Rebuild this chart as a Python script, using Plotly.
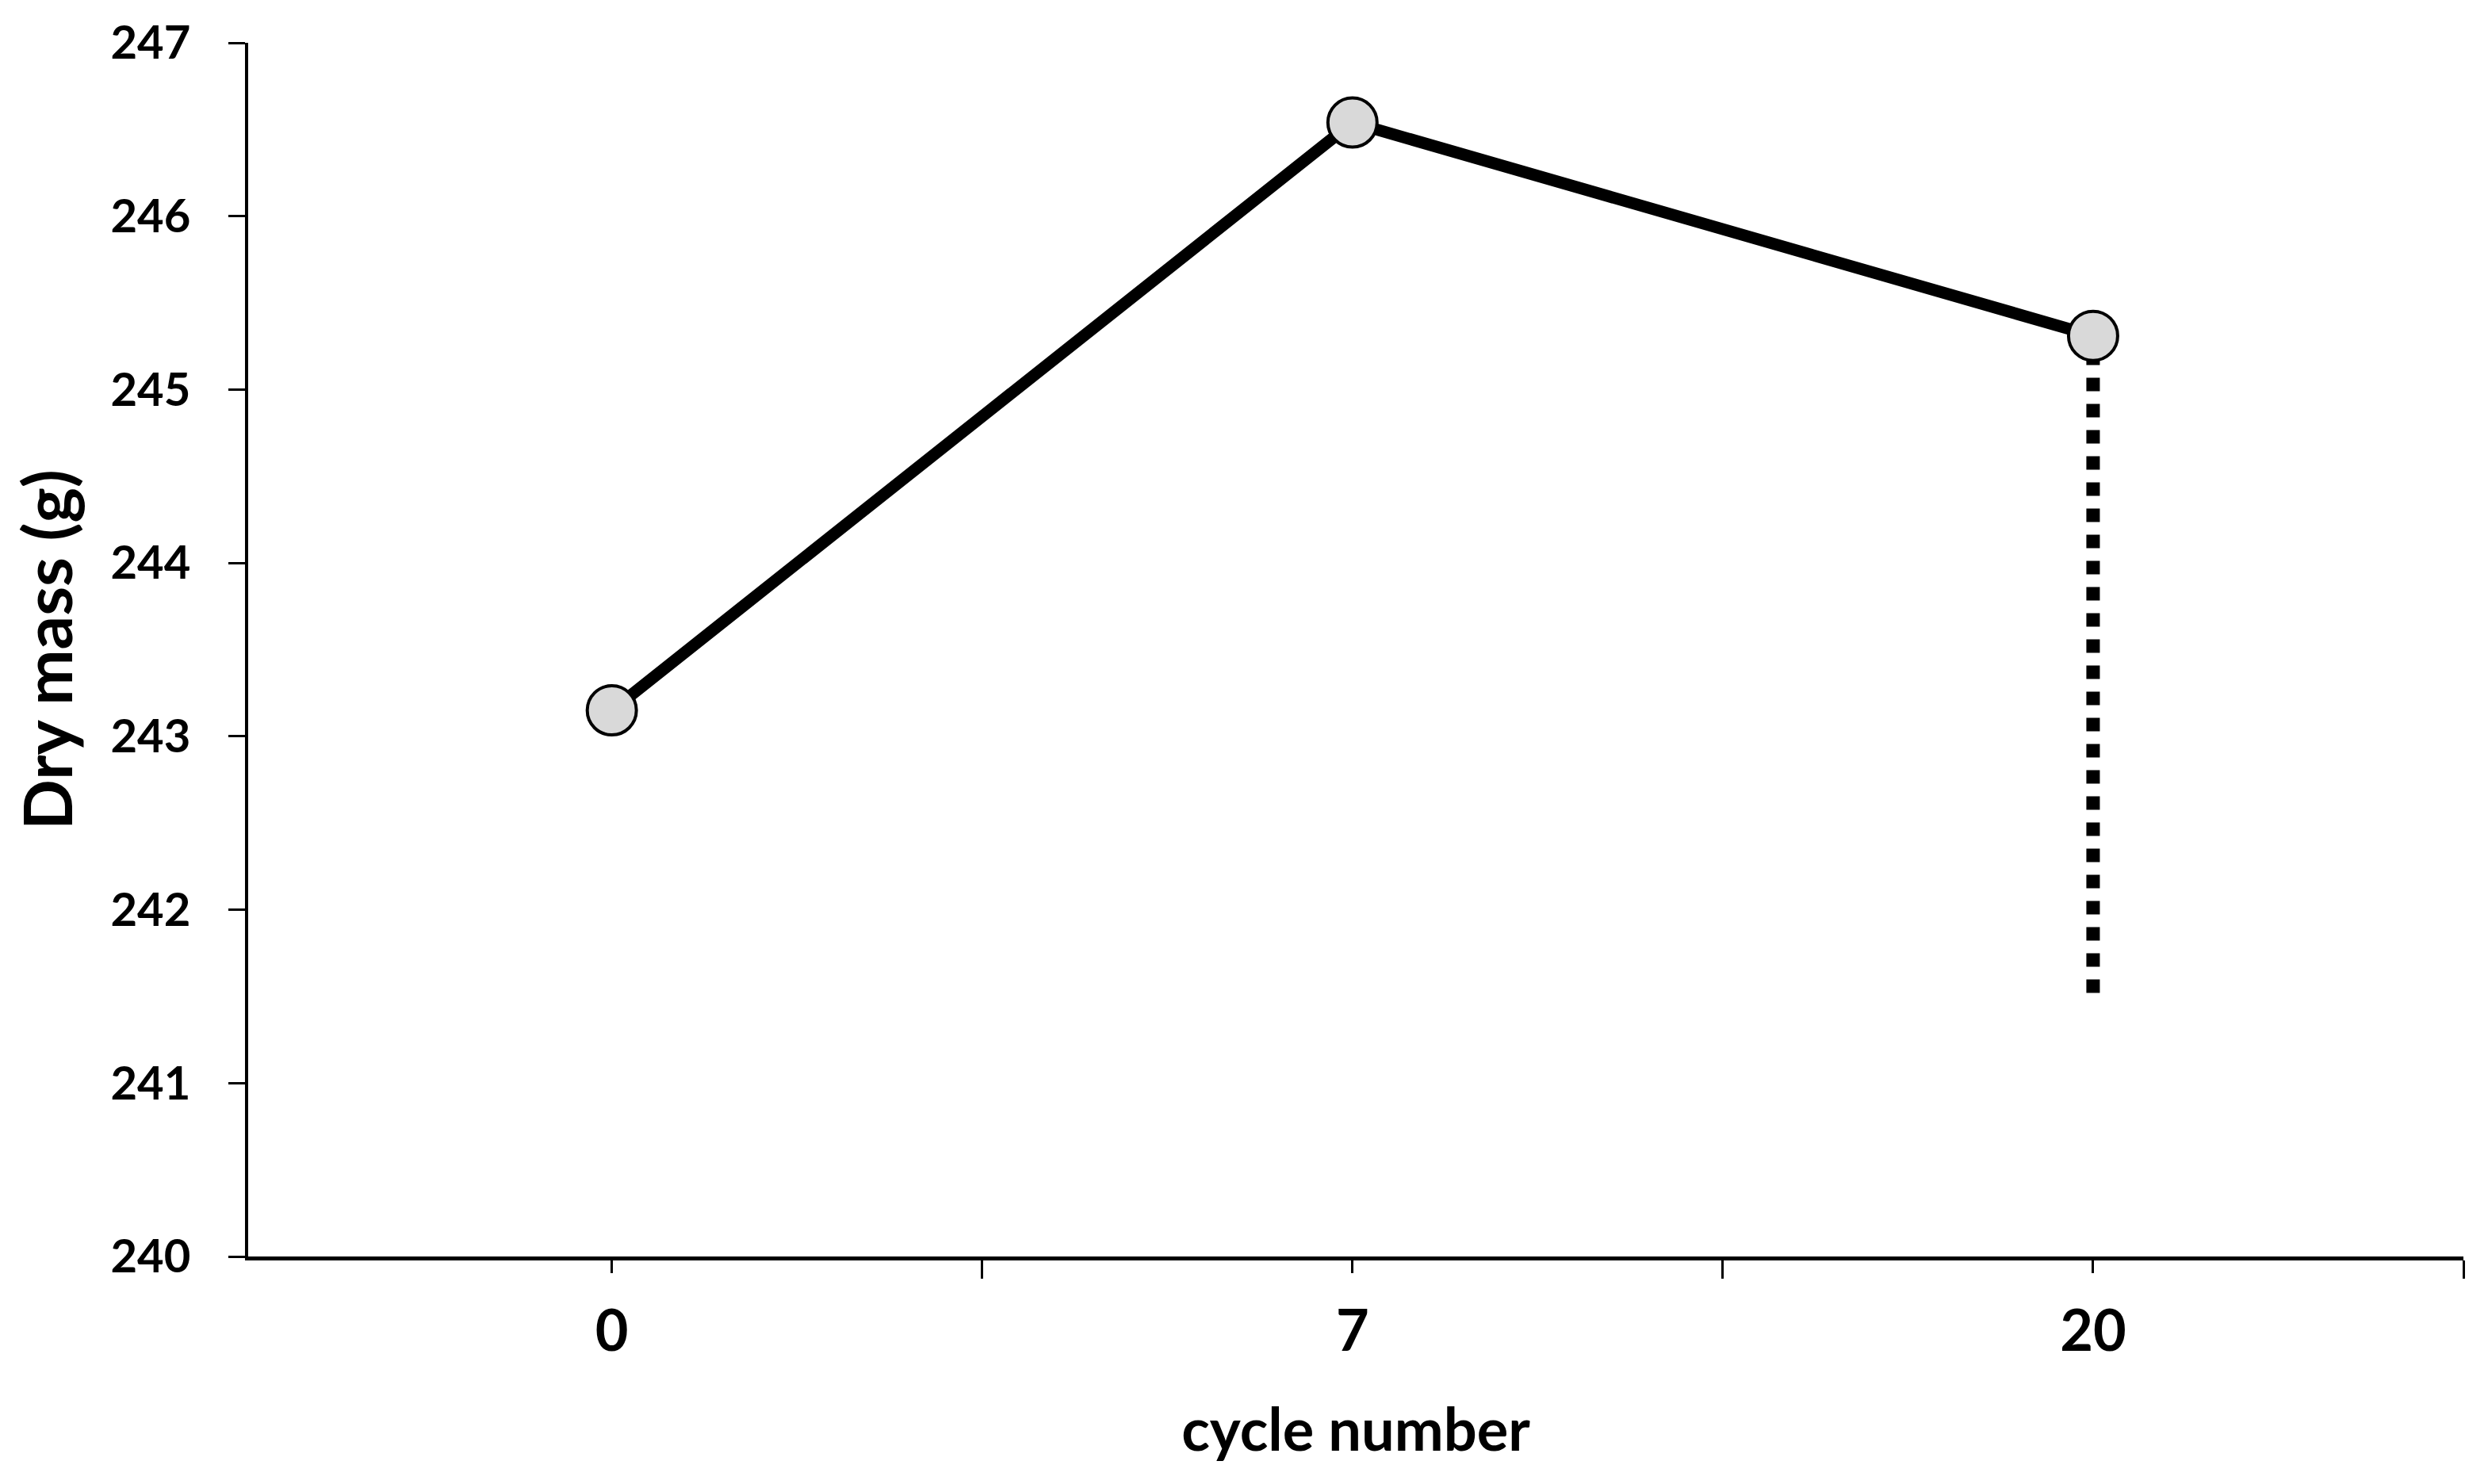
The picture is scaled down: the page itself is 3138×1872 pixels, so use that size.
import plotly.graph_objects as go

# Data
cycle_labels = ["0", "7", "20"]
cycle_pos = [0, 1, 2]
dry_mass = [243.15, 246.54, 245.31]
err_minus = [None, None, 3.79]  # only the last point shows a (dotted) downward bar

y_ticks = [240, 241, 242, 243, 244, 245, 246, 247]
boundaries = [-0.5, 0.5, 1.5, 2.5]

FONT = "Lato"

fig = go.Figure()

# dotted downward bars (drawn from the bottom end upward)
for xp, v, e in zip(cycle_pos, dry_mass, err_minus):
    if e is None:
        continue
    fig.add_trace(go.Scatter(
        x=[xp, xp], y=[v - e, v], mode="lines",
        line=dict(color="black", width=17, dash="17px,16px"),
        hoverinfo="skip", showlegend=False,
    ))

fig.add_trace(go.Scatter(
    x=cycle_pos, y=dry_mass, mode="lines+markers",
    line=dict(color="black", width=15),
    marker=dict(size=62, color="#d9d9d9", line=dict(color="black", width=4)),
    showlegend=False,
))

fig.update_layout(
    width=3138, height=1872,
    margin=dict(l=305, r=39, t=46, b=295, autoexpand=False),
    paper_bgcolor="white", plot_bgcolor="white",
    font=dict(family=FONT, color="black"),
)

fig.update_xaxes(
    range=[-0.491, 2.5],
    tickmode="array", tickvals=cycle_pos, ticktext=cycle_labels,
    ticks="outside", ticklen=16, tickwidth=3, tickcolor="black",
    tickfont=dict(family=FONT, size=72, color="black", weight="bold"),
    ticklabelstandoff=12,
    minor=dict(tickmode="array", tickvals=boundaries, ticks="outside",
               ticklen=23, tickwidth=3, tickcolor="black", showgrid=False),
    showline=True, linecolor="black", linewidth=5,
    showgrid=False, zeroline=False, automargin=False,
    title=dict(text="cycle number", font=dict(family=FONT, size=74, color="black", weight="bold"),
               standoff=61),
)

fig.update_yaxes(
    range=[240, 247],
    tickmode="array", tickvals=y_ticks,
    ticks="outside", ticklen=21, tickwidth=3, tickcolor="black",
    tickfont=dict(family=FONT, size=58, color="black", weight="bold"),
    ticklabelstandoff=36,
    showline=True, linecolor="black", linewidth=4,
    showgrid=False, zeroline=False, automargin=False,
    title=dict(text="Dry mass (g)", font=dict(family=FONT, size=84, color="black", weight="bold"),
               standoff=32),
)

fig.write_html("out.html")
